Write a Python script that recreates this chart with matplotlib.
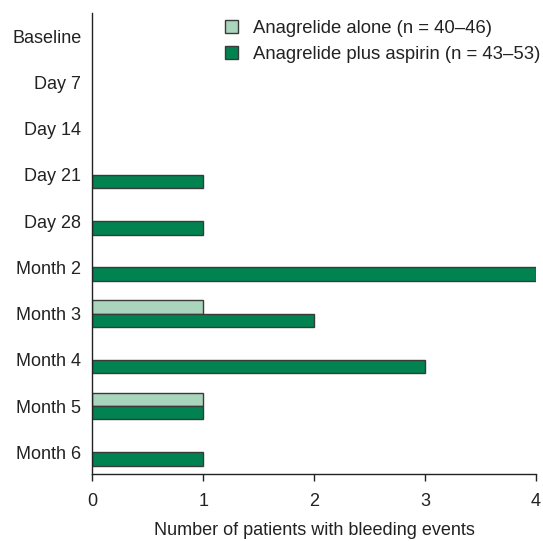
import matplotlib
matplotlib.use("Agg")
import matplotlib.pyplot as plt
import numpy as np

categories = ["Baseline", "Day 7", "Day 14", "Day 21", "Day 28",
              "Month 2", "Month 3", "Month 4", "Month 5", "Month 6"]
alone = [0, 0, 0, 0, 0, 0, 1, 0, 1, 0]
plus_aspirin = [0, 0, 0, 1, 1, 4, 2, 3, 1, 1]
xticks = [0, 1, 2, 3, 4]

plt.rcParams['font.family'] = ['Liberation Sans', 'DejaVu Sans']
FS = 13
fig = plt.figure(figsize=(5.43, 5.41), dpi=100)
ax = fig.add_axes([0.1703, 0.1238, 0.8163, 0.8527])

y = np.arange(len(categories))
h = 0.29
lw_a = [1.0 if v > 0 else 0 for v in alone]
lw_b = [1.0 if v > 0 else 0 for v in plus_aspirin]
ax.barh(y - h / 2, alone, height=h, color="#aad5bd", edgecolor="#3a3a3a",
        linewidth=lw_a, label="Anagrelide alone (n = 40\u201346)")
ax.barh(y + h / 2, plus_aspirin, height=h, color="#008350", edgecolor="#3a3a3a",
        linewidth=lw_b, label="Anagrelide plus aspirin (n = 43\u201353)")

ax.set_yticks(y)
ax.set_yticklabels(categories, fontsize=FS, color="#222222")
ax.set_ylim(len(categories) - 1 + 0.47, -0.51)
ax.set_xlim(0, 4)
ax.set_xticks(xticks)
ax.set_xticklabels([str(t) for t in xticks], fontsize=FS, color="#222222")
ax.tick_params(axis='y', length=0, pad=8)
ax.tick_params(axis='x', direction='out', length=5, width=1, pad=9, color="#222222")
for s in ["top", "right"]:
    ax.spines[s].set_visible(False)
ax.spines["left"].set_linewidth(1)
ax.spines["bottom"].set_linewidth(1)
ax.spines["left"].set_color("#222222")
ax.spines["bottom"].set_color("#222222")
ax.set_xlabel("Number of patients with bleeding events", fontsize=FS,
              labelpad=8, color="#222222")

leg = ax.legend(loc="upper left", bbox_to_anchor=(0.298, 0.985), frameon=False,
                fontsize=13.3, handlelength=0.72, handleheight=0.72, handletextpad=0.8,
                labelspacing=0.5, borderaxespad=0, borderpad=0)
for t in leg.get_texts():
    t.set_color("#222222")
for hnd in leg.legend_handles:
    hnd.set_linewidth(1.0)

fig.savefig("out.png", dpi=100)
